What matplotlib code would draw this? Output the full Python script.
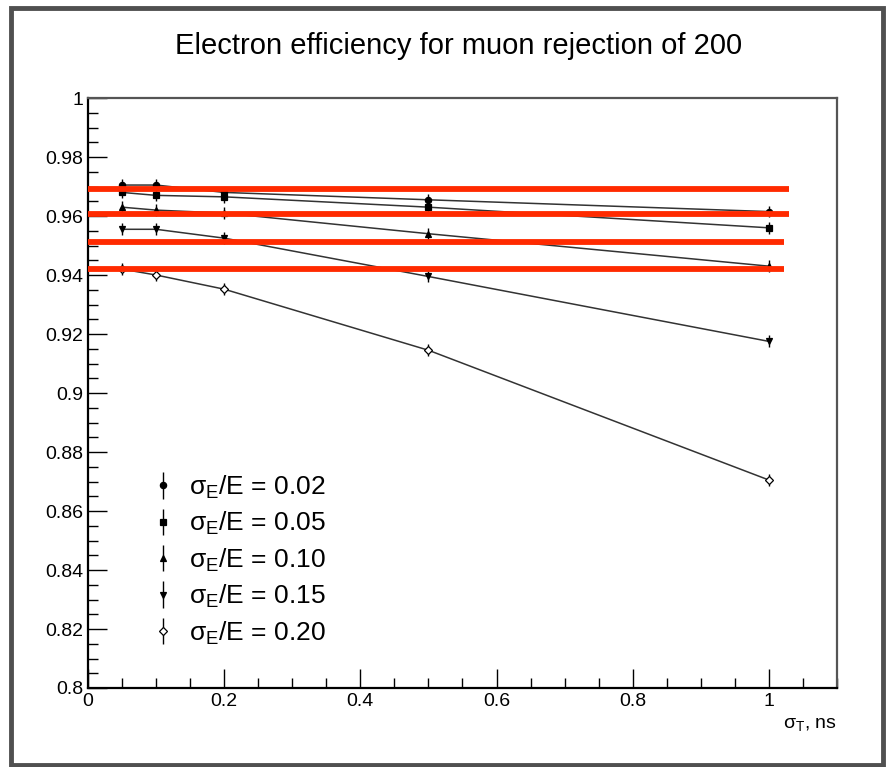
import matplotlib
matplotlib.use('Agg')
import matplotlib.pyplot as plt
from matplotlib.patches import Rectangle
from matplotlib.ticker import MultipleLocator

plt.rcParams['font.family'] = ['Liberation Sans', 'DejaVu Sans']

# sigma_T, ns
sigma_t = [0.05, 0.1, 0.2, 0.5, 1.0]

# efficiencies for each sigma_E/E
eff_002 = [0.9705, 0.9705, 0.9680, 0.9655, 0.9615]
eff_005 = [0.9680, 0.9670, 0.9665, 0.9630, 0.9560]
eff_010 = [0.9630, 0.9620, 0.9610, 0.9540, 0.9430]
eff_015 = [0.9555, 0.9555, 0.9525, 0.9395, 0.9175]
eff_020 = [0.9420, 0.9400, 0.9352, 0.9145, 0.8705]
err = [0.002, 0.002, 0.002, 0.002, 0.002]

labels = ['0.02', '0.05', '0.10', '0.15', '0.20']
markers = ['o', 's', '^', 'v', 'D']
fills = ['k', 'k', 'k', 'k', 'white']

# red reference lines (level, right end in x)
red_levels = [0.9692, 0.9606, 0.9512, 0.9421]
red_ends = [1.03, 1.03, 1.022, 1.022]

fig = plt.figure(figsize=(8.86, 7.67), dpi=100)
ax = fig.add_axes([0.0993, 0.103, 0.8454, 0.7692])

series = [eff_002, eff_005, eff_010, eff_015, eff_020]
for vals, lab, m, fc in zip(series, labels, markers, fills):
    ax.plot(sigma_t, vals, color='#333333', lw=1.1, zorder=2)
    ax.errorbar(sigma_t, vals, yerr=err, fmt=m, ms=4.5, mfc=fc, mec='k', mew=0.9,
                ecolor='k', elinewidth=1.0, capsize=0, zorder=3,
                label=r'$\mathregular{\sigma_E/E}$ = ' + lab)

for lvl, xe in zip(red_levels, red_ends):
    ax.plot([0, xe], [lvl, lvl], color='#ff2a00', lw=4.2, solid_capstyle='butt', zorder=4)

ax.set_xlim(0, 1.1)
ax.set_ylim(0.8, 1.0)
ax.xaxis.set_major_locator(MultipleLocator(0.2))
ax.xaxis.set_minor_locator(MultipleLocator(0.05))
ax.yaxis.set_major_locator(MultipleLocator(0.02))
ax.yaxis.set_minor_locator(MultipleLocator(0.005))
ax.tick_params(which='both', direction='in', top=False, right=False, labelsize=14)
ax.tick_params(which='major', length=14, width=1.0)
ax.tick_params(which='minor', length=7, width=1.0)
ax.set_xticks([0, 0.2, 0.4, 0.6, 0.8, 1.0])
ax.set_xticklabels(['0', '0.2', '0.4', '0.6', '0.8', '1'])
ax.set_yticks([0.8, 0.82, 0.84, 0.86, 0.88, 0.9, 0.92, 0.94, 0.96, 0.98, 1.0])
ax.set_yticklabels(['0.8', '0.82', '0.84', '0.86', '0.88', '0.9', '0.92', '0.94', '0.96', '0.98', '1'])
for sp in ax.spines.values():
    sp.set_linewidth(1.6)
    sp.set_color('#555555')
ax.spines['left'].set_color('k')
ax.spines['bottom'].set_color('k')

leg = ax.legend(loc='lower left', bbox_to_anchor=(0.054, 0.03), frameon=False, fontsize=19,
                handlelength=0.8, handletextpad=0.6, labelspacing=0.35)

fig.text(0.518, 0.940, 'Electron efficiency for muon rejection of 200', ha='center', va='center',
         fontsize=21)
fig.text(0.944, 0.055, r'$\mathregular{\sigma_T}$, ns', ha='right', va='center', fontsize=14)

fig.patches.append(Rectangle((0.012, 0.003), 0.985, 0.987, transform=fig.transFigure,
                             fill=False, edgecolor='#505050', lw=3.5))

fig.savefig('out.png', dpi=100)
